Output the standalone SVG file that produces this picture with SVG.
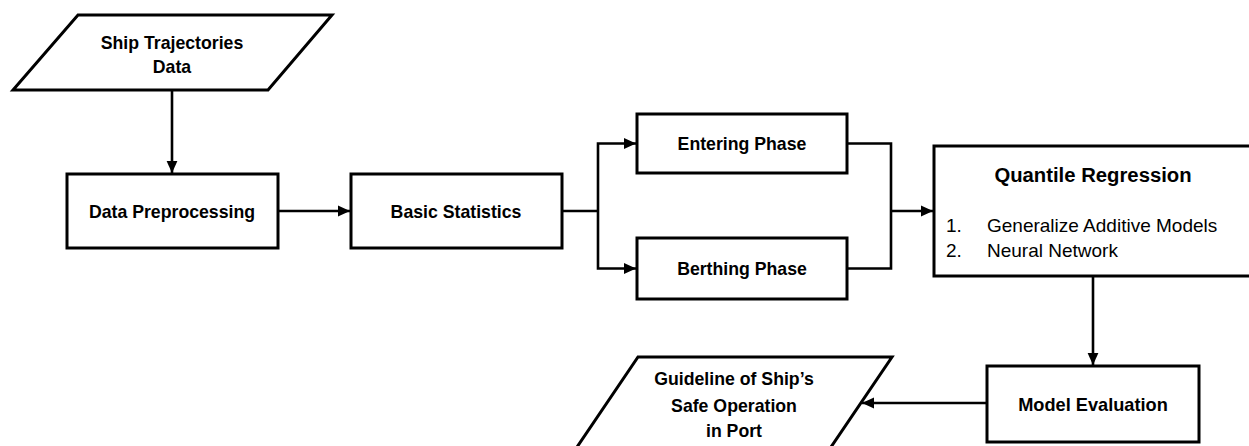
<svg xmlns="http://www.w3.org/2000/svg" width="1249" height="446" viewBox="0 0 1249 446">
<defs>
<style>
.box{fill:#fff;stroke:#000;stroke-width:3}
.b{font-family:"Liberation Sans",Arial,sans-serif;font-weight:bold;font-size:17.7px;fill:#000;text-anchor:middle}
.r{font-family:"Liberation Sans",Arial,sans-serif;font-size:19px;fill:#000}
.c{fill:none;stroke:#000;stroke-width:2.6}
</style>
<marker id="ah" markerUnits="userSpaceOnUse" markerWidth="12" markerHeight="12" viewBox="0 0 10 10" refX="10" refY="5" orient="auto">
<path d="M0,0.5 L10,5 L0,9.5 Z" fill="#000"/>
</marker>
</defs>
<rect width="1249" height="446" fill="#fff"/>
<g id="connectors">
<path class="c" d="M172,90 V173" marker-end="url(#ah)"/>
<path class="c" d="M278,211 H350" marker-end="url(#ah)"/>
<path class="c" d="M562,211 H598"/>
<path class="c" d="M598,211 V143.5 H636" marker-end="url(#ah)"/>
<path class="c" d="M598,211 V268.5 H636" marker-end="url(#ah)"/>
<path class="c" d="M847,143.5 H891 V211"/>
<path class="c" d="M847,268.5 H891 V211"/>
<path class="c" d="M891,211 H933" marker-end="url(#ah)"/>
<path class="c" d="M1093,276 V365" marker-end="url(#ah)"/>
<path class="c" d="M987,403 H862" marker-end="url(#ah)"/>
</g>
<g id="ship-data">
<polygon class="box" points="78,15 332,15 268,90 13,90"/>
<text class="b" x="172" y="48.5">Ship Trajectories</text>
<text class="b" x="172" y="72.5">Data</text>
</g>
<g id="data-preprocessing">
<rect class="box" x="67" y="174" width="211" height="74"/>
<text class="b" x="172" y="218">Data Preprocessing</text>
</g>
<g id="basic-statistics">
<rect class="box" x="351" y="174" width="211" height="74"/>
<text class="b" x="456" y="218">Basic Statistics</text>
</g>
<g id="entering-phase">
<rect class="box" x="637" y="114" width="210" height="59"/>
<text class="b" x="742" y="150">Entering Phase</text>
</g>
<g id="berthing-phase">
<rect class="box" x="637" y="238" width="210" height="61"/>
<text class="b" x="742" y="275">Berthing Phase</text>
</g>
<g id="quantile-regression">
<rect class="box" x="934" y="146" width="330" height="130"/>
<text class="b" x="1093" y="182" style="font-size:20.3px">Quantile Regression</text>
<text class="r" x="946" y="232">1.</text>
<text class="r" x="987" y="232">Generalize Additive Models</text>
<text class="r" x="946" y="257">2.</text>
<text class="r" x="987" y="257">Neural Network</text>
</g>
<g id="model-evaluation">
<rect class="box" x="987" y="366" width="212" height="76"/>
<text class="b" x="1093" y="411" style="font-size:18.2px">Model Evaluation</text>
</g>
<g id="guideline">
<polygon class="box" points="638,357 892,357 829,450 575,450"/>
<text class="b" x="734" y="385">Guideline of Ship’s</text>
<text class="b" x="734" y="411.5">Safe Operation</text>
<text class="b" x="734" y="437">in Port</text>
</g>
</svg>
